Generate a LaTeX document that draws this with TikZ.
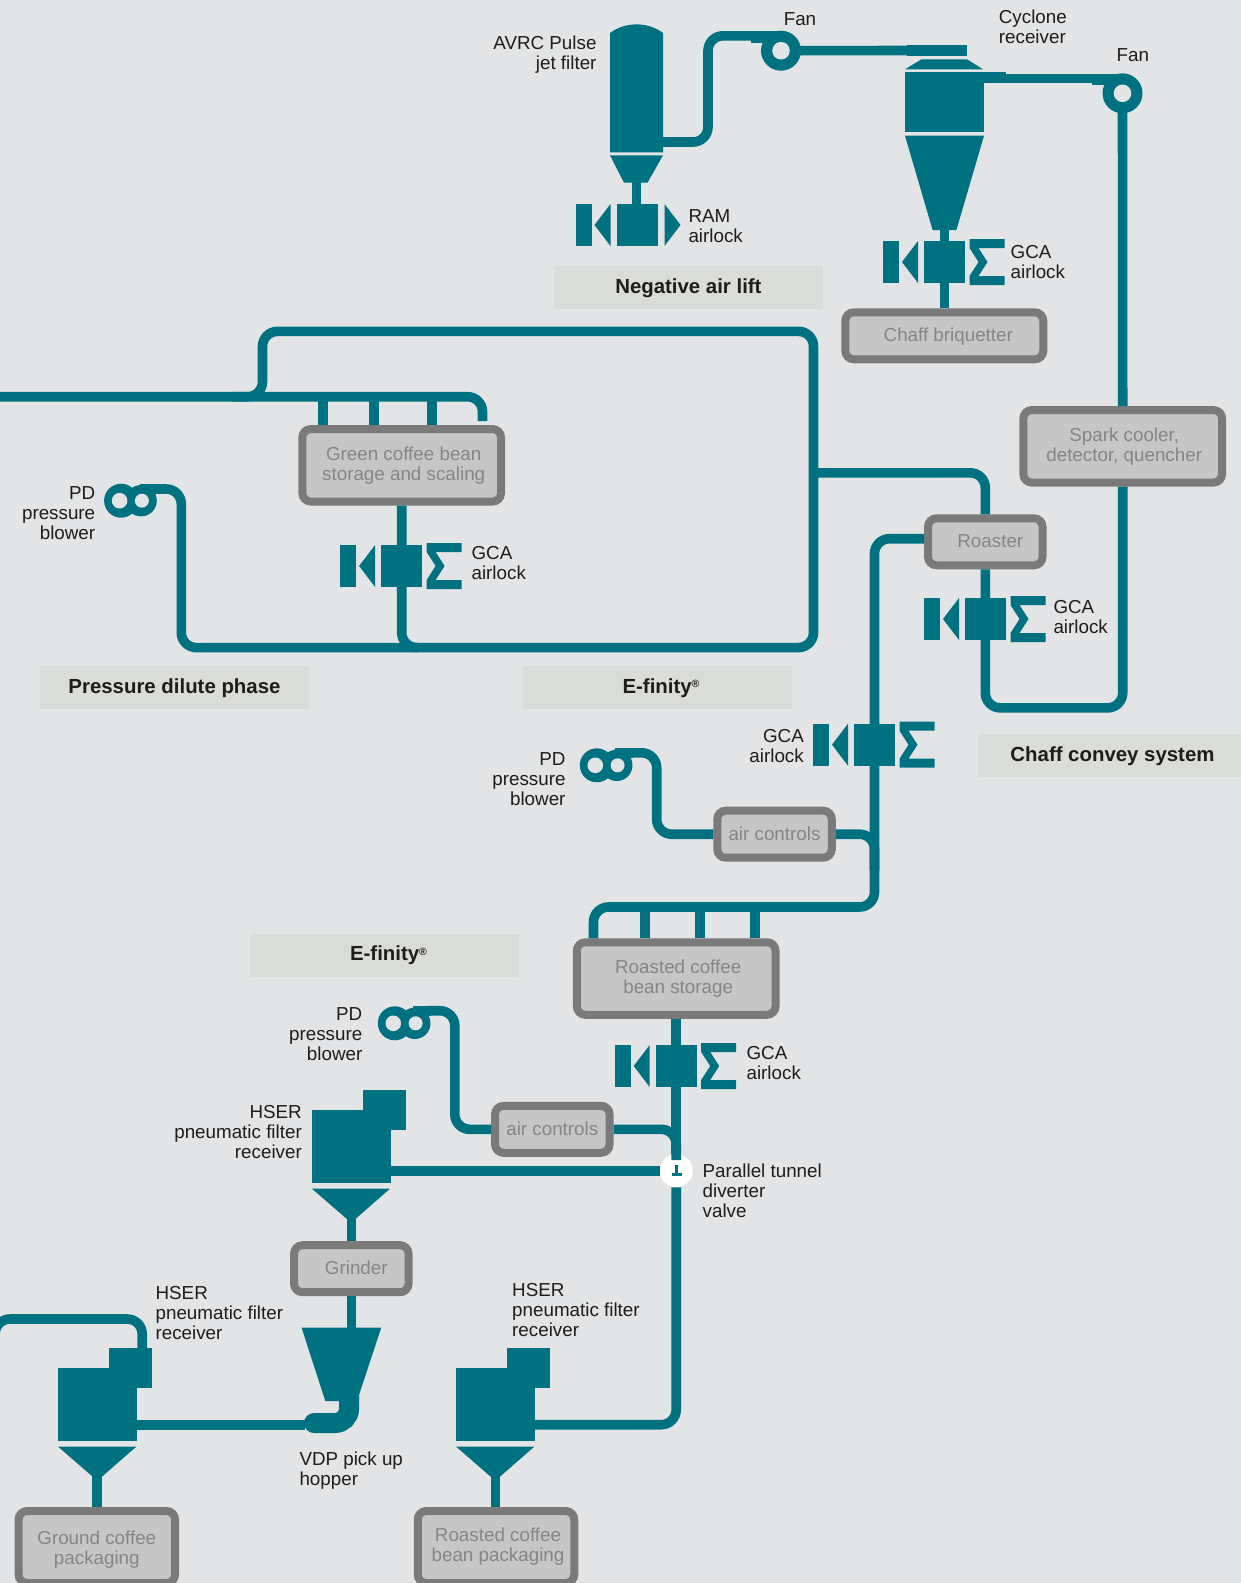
\documentclass[tikz,border=0pt]{standalone}
\usepackage{fontspec}
\setmainfont{Liberation Sans}
\definecolor{pagebg}{HTML}{E2E4E6}
\definecolor{unitcol}{HTML}{007180}
\definecolor{stagebg}{HTML}{DADCDA}
\definecolor{boxfill}{HTML}{C5C6C5}
\definecolor{boxline}{HTML}{7A7A7A}
\definecolor{boxtext}{HTML}{858585}
\definecolor{tagtext}{HTML}{1D1D1B}
\newcommand{\regmark}{\raisebox{5.5pt}{\fontsize{10.5}{10.5}\selectfont ®}}
\tikzset{
  pipe/.style={draw=unitcol,line width=9.6pt},
  duct/.style={pipe,rounded corners=15pt},
  unit/.style={fill=unitcol},
  box/.style={draw=boxline,fill=boxfill,line width=8pt,rounded corners=8.5pt,inner sep=0pt,align=center,text=boxtext,font=\fontsize{18.8}{20}\selectfont},
  onebox/.style={box,text height=15.5pt,text depth=3.5pt},
  smallbox/.style={onebox,minimum width=114.5pt,minimum height=47pt},
  bigbox/.style={box,minimum width=198.7pt,minimum height=72.5pt},
  packbox/.style={box,minimum width=156.5pt,minimum height=72pt},
  tagl/.style={inner sep=0pt,anchor=west,align=left,text=tagtext,font=\fontsize{18.8}{20}\selectfont},
  tagr/.style={inner sep=0pt,anchor=east,align=right,text=tagtext,font=\fontsize{18.8}{20}\selectfont},
  stage/.style={fill=stagebg,inner sep=0pt,minimum width=269pt,minimum height=43pt,text height=15pt,text depth=3.4pt,text=tagtext,font=\fontsize{20.4}{22}\selectfont\bfseries},
  gcalock/.pic={
    \fill[unit] (-61.5,-21) rectangle (-45.5,21);
    \fill[unit] (-42.5,0)--(-26.5,-21)--(-26.5,21)--cycle;
    \fill[unit] (-20.5,-21) rectangle (20.5,21);
    \fill[unit] (25,-23)--(60,-23)--(60,-14)--(34,-14)--(43,0)--(34,14)--(60,14)--(60,23)--(25,23)--(25,14)--(34,0)--(25,-14)--cycle;
  },
  ramlock/.pic={
    \fill[unit] (-62,-21) rectangle (-46,21);
    \fill[unit] (-43,0)--(-27,-21)--(-27,21)--cycle;
    \fill[unit] (-20.5,-21) rectangle (20.5,21);
    \fill[unit] (27,-21)--(43,0)--(27,21)--cycle;
  },
  fan/.pic={
    \fill[unit] (-30.5,-19.7) rectangle (0,-8);
    \fill[unit] (0,0) circle (20);
    \fill[pagebg] (0,0) circle (8.8);
  },
  blower/.pic={
    \fill[unit] (20,-16.9) rectangle (38,-7.2);
    \fill[unit] (1.5,0) circle (17);
    \fill[unit] (21.5,0) circle (15.7);
    \fill[pagebg] (0,0) circle (7.8);
    \fill[pagebg] (22.3,0) circle (7);
  },
  hser/.pic={
    \fill[unit] (0,0) rectangle (78.8,73);
    \fill[unit] (51,-20) rectangle (94,20);
    \fill[unit] (0,78.7)--(78,78.7)--(43.7,108.7)--(34.5,108.7)--cycle;
  },
  tee/.pic={
    \fill[unit] (-1,-5.7) rectangle (1.5,4.7);
    \fill[unit] (-4.7,2.4) rectangle (5.3,4.9);
  },
}
\begin{document}
\begin{tikzpicture}[x=1pt,y=-1pt]
 \path[use as bounding box] (0,0) rectangle (1241,1583);
 \clip (0,0) rectangle (1241,1583);
 \fill[pagebg] (0,0) rectangle (1241,1583);

 \node[onebox,minimum width=198pt,minimum height=47pt] (briq) at (944.3,335.8) {\hspace*{8pt}Chaff briquetter};
 \node[bigbox] (green) at (401.7,465.3) {\hspace*{4pt}Green coffee bean\\\hspace*{4pt}storage and scaling};
 \node[bigbox] (spark) at (1122.7,446.3) {\hspace*{3pt}Spark cooler,\\\hspace*{3pt}detector, quencher};
 \node[smallbox] (roaster) at (985.3,541.8) {\hspace*{10pt}Roaster};
 \node[smallbox] (air2) at (774.5,834.2) {air controls};
 \node[bigbox] (storage) at (676.2,978.5) {\hspace*{4pt}Roasted coffee\\\hspace*{4pt}bean storage};
 \node[smallbox] (air3) at (552.3,1129.3) {air controls};
 \node[smallbox] (grinder) at (351.3,1268.7) {\hspace*{10pt}Grinder};
 \node[packbox] (ground) at (96.8,1547) {\rule{0pt}{18.5pt}Ground coffee\\packaging};
 \node[packbox] (packing) at (496,1547) {\hspace*{4pt}Roasted coffee\\\hspace*{4pt}bean packaging};
 \node[circle,fill=white,inner sep=0pt,minimum size=33pt] (valve) at (676.2,1170.7) {};

 \node[stage] (negair) at (688.4,287.5) {Negative air lift};
 \node[stage] (dilute) at (174.5,687.5) {Pressure dilute phase};
 \node[stage] (efinA) at (657,687.5) {\hspace*{8pt}E-finity\regmark};
 \node[stage] (chaffsys) at (1112.5,755.5) {Chaff convey system};
 \node[stage] (efinB) at (384.5,955) {\hspace*{8pt}E-finity\regmark};

 \coordinate (filterOut) at (663,142);
 \coordinate (filterBase) at (636.5,182);
 \coordinate (fanA) at (781,50.7);
 \coordinate (fanB) at (1122.5,93.3);
 \coordinate (fanAin) at (752,35.8);
 \coordinate (fanBin) at (1092,78.3);
 \coordinate (cycIn) at (907,50.5);
 \coordinate (cycOut) at (984,78.3);
 \coordinate (cycBase) at (944.5,229);
 \coordinate (lockRam) at (637.5,225);
 \coordinate (lockCyc) at (944.5,262);
 \coordinate (lockGreen) at (401.6,566);
 \coordinate (lockRoast) at (985.5,619);
 \coordinate (lockDrop) at (874.5,744.7);
 \coordinate (lockStore) at (676.2,1066);
 \coordinate (blowerA) at (119.6,500.7);
 \coordinate (blowerB) at (595.3,765.3);
 \coordinate (blowerC) at (393.3,1023.3);
 \coordinate (blowerAout) at (155,489);
 \coordinate (blowerBout) at (630,752.8);
 \coordinate (blowerCout) at (428,1010.7);
 \coordinate (edgeIn) at (-5,396.7);
 \coordinate (greenIn) at (482.5,421);
 \coordinate (mainTee) at (813.5,472.8);
 \coordinate (roastOut) at (924,538.7);
 \coordinate (storeIn) at (593.5,938.3);
 \coordinate (mergeB) at (874.5,870);
 \coordinate (mergeC) at (676.2,1160);
 \coordinate (hserA) at (312,1110);
 \coordinate (hserB) at (58.2,1368);
 \coordinate (hserC) at (456.2,1368);
 \coordinate (hserAout) at (390,1170.7);
 \coordinate (hserBout) at (136,1424.7);
 \coordinate (hserCout) at (534,1424.7);
 \coordinate (hserBtop) at (142.2,1350);
 \coordinate (hserAbase) at (351.3,1215);
 \coordinate (hserBbase) at (97.2,1474);
 \coordinate (hserCbase) at (495.5,1474);
 \coordinate (hopperTop) at (351.3,1328);
 \coordinate (hopperOut) at (305,1424.7);

 \draw[duct] (filterOut) -- ++(45,0) |- (fanAin);
 \draw[pipe] (fanA) -- (cycIn);
 \draw[pipe] (cycOut) -- (fanBin);
 \draw[pipe] (filterBase) -- (filterBase |- lockRam);
 \draw[pipe] (cycBase) -- (cycBase |- briq.north);
 \draw[pipe] (fanB) -- (spark.north);
 \draw[duct] (spark.south) -- ++(0,221.3) -| (roaster.south);
 \draw[duct] (mainTee) -| (roaster.north);
 \draw[duct] (roastOut) -- ++(-49.5,0) -- ++(0,368.3) -| (storeIn);
 \foreach \bx in {644.7,700,755} \draw[pipe] (\bx,907) -- (\bx,907 |- storage.north);
 \draw[duct] (blowerBout) -- ++(26.7,0) |- (air2.west);
 \draw[duct] (air2.east) -| (mergeB);
 \draw[pipe] (storage.south) -- (valve.north);
 \draw[duct] (blowerCout) -- ++(26.8,0) |- (air3.west);
 \draw[duct] (air3.east) -| (mergeC);
 \draw[pipe] (hserAout) -- (valve.west);
 \draw[duct] (valve.south) |- (hserCout);
 \draw[pipe] (hserAbase) -- (grinder.north);
 \draw[pipe] (grinder.south) -- (hopperTop);
 \draw[pipe] (hopperOut) -- (hserBout);
 \draw[duct] (hserBtop) -- ++(0,-31) -- ++(-147.2,0) -- ++(0,22);
 \draw[pipe] (hserBbase) -- (hserBbase |- ground.north);
 \draw[pipe] (hserCbase) -- (hserCbase |- packing.north);
 \draw[duct] (edgeIn) -| (greenIn);
 \foreach \bx in {322.9,374,432} \draw[pipe] (\bx,396.7) -- (\bx,396.7 |- green.north);
 \draw[duct] (green.south) -- ++(0,142) -- ++(411.8,0) -- ++(0,-316.2) -- ++(-551,0) -- ++(0,65.4) -- ++(-30,0);
 \draw[duct] (blowerAout) -- ++(26.3,0) -- ++(0,158.6) -- ++(236,0);

 \fill[unit] (610,152.3) -- (610,33) .. controls (625,21.5) and (648,21.5) .. (663,33) -- (663,152.3) -- cycle;
 \fill[unit] (610,155.3) -- (663,155.3) -- (647.5,182.7) -- (624,182.7) -- cycle;
 \fill[unit] (907,45) rectangle (967,56);
 \fill[unit] (921.6,59.3) -- (967,59.3) -- (983,69.3) -- (905,69.3) -- cycle;
 \fill[unit] (905,71.7) rectangle (984,132.3);
 \fill[unit] (984,72) rectangle (1006,83);
 \fill[unit] (905,135.7) -- (984,135.7) -- (956.4,230) -- (932.6,230) -- cycle;
 \fill[unit] (301.6,1327.7) -- (381.2,1327.7) -- (359,1395) -- (359,1401) -- (325.3,1401) -- cycle;
 \draw[unitcol,line width=20pt,line cap=round,rounded corners=14pt] (314,1423) -- (349,1423) -- (349,1396);

 \pic at (fanA) {fan};
 \pic at (fanB) {fan};
 \pic at (lockRam) {ramlock};
 \pic at (lockCyc) {gcalock};
 \pic at (lockGreen) {gcalock};
 \pic at (lockRoast) {gcalock};
 \pic at (lockDrop) {gcalock};
 \pic at (lockStore) {gcalock};
 \pic at (blowerA) {blower};
 \pic at (blowerB) {blower};
 \pic at (blowerC) {blower};
 \pic at (hserA) {hser};
 \pic at (hserB) {hser};
 \pic at (hserC) {hser};
 \pic at (valve) {tee};

 \node[tagr] (tagFilter) at (596.7,54.3) {AVRC Pulse\\jet filter};
 \node[tagl] (tagFanA) at (783.6,19) {Fan};
 \node[tagl] (tagCyc) at (998.7,27) {Cyclone\\receiver};
 \node[tagl] (tagFanB) at (1116.5,55) {Fan};
 \node[tagl] (tagRam) at (688.3,226.5) {RAM\\airlock};
 \node[tagl] (tagLockCyc) at (1010.5,261.7) {GCA\\airlock};
 \node[tagr] (tagBlowerA) at (95.4,513) {PD\\pressure\\blower};
 \node[tagl] (tagLockGreen) at (471.4,562.7) {GCA\\airlock};
 \node[tagl] (tagLockRoast) at (1053.3,617.5) {GCA\\airlock};
 \node[tagr] (tagLockDrop) at (804,746.3) {GCA\\airlock};
 \node[tagr] (tagBlowerB) at (565.7,778.7) {PD\\pressure\\blower};
 \node[tagr] (tagBlowerC) at (362.5,1033.7) {PD\\pressure\\blower};
 \node[tagl] (tagLockStore) at (746.4,1062.7) {GCA\\airlock};
 \node[tagr] (tagHserA) at (302,1131.7) {HSER\\pneumatic filter\\receiver};
 \node[tagl] (tagValve) at (702.5,1190.5) {Parallel tunnel\\diverter\\valve};
 \node[tagl] (tagHserB) at (155.4,1313) {HSER\\pneumatic filter\\receiver};
 \node[tagl] (tagHserC) at (512,1310.5) {HSER\\pneumatic filter\\receiver};
 \node[tagl] (tagHopper) at (299.3,1470.5) {VDP pick up\\hopper};
\end{tikzpicture}
\end{document}
